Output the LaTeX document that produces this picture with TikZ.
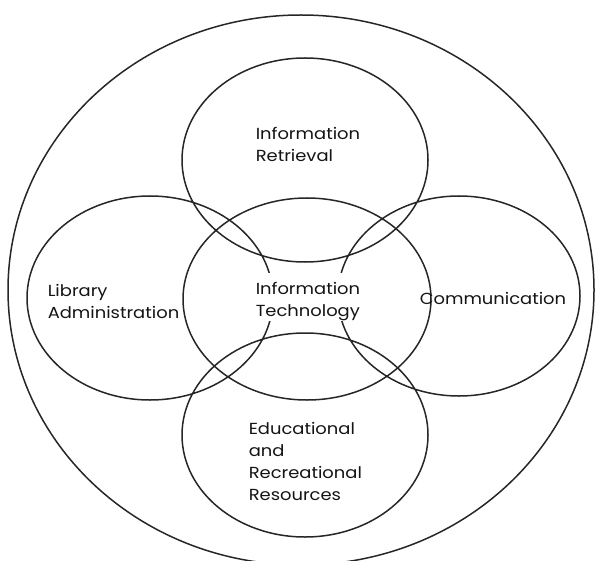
\documentclass[tikz,border=0pt]{standalone}
\usepackage{fontspec}
\setmainfont{Poppins}[FakeStretch=1.12]

\begin{document}
\begin{tikzpicture}[x=1pt,y=-1pt,line width=1.5pt,
    lbl/.style={align=left,inner sep=0pt,text=black!92,
                font=\fontsize{16}{22}\selectfont}]
\useasboundingbox (0,0) rectangle (596,561);
\draw[black!85]
    (301,290) ellipse [x radius=293, y radius=275]
    (305,160) ellipse [x radius=123, y radius=102]
    (150,298) ellipse [x radius=123, y radius=102]
    (459,296) ellipse [x radius=121, y radius=100]
    (305,435) ellipse [x radius=123, y radius=102]
    (307,299) ellipse [x radius=124, y radius=101];
\path
    (255,127) node [lbl,anchor=north west] (ir)     {Information\\Retrieval}
    ( 47,284) node [lbl,anchor=north west] (libadm) {Library\\Administration}
    (419,304) node [lbl,anchor=base west]  (comm)   {Communication}
    (248,422) node [lbl,anchor=north west] (edres)  {Educational\\and\\Recreational\\Resources};
\path
    (253,272) node [lbl,anchor=north west,fill=white,inner xsep=2pt] (it)
        {\rule{0pt}{22pt}Information\\Technology};
\end{tikzpicture}
\end{document}
